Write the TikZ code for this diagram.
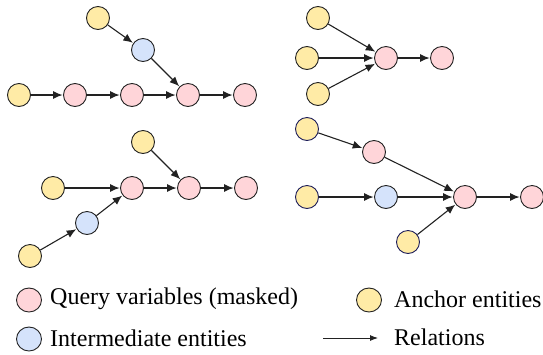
\documentclass[tikz,border=0pt]{standalone}
\usepackage{fontspec}
\setmainfont{Liberation Serif}
\usetikzlibrary{arrows.meta,shapes.geometric}
\definecolor{qpink}{HTML}{FFD5D9}
\definecolor{ayellow}{HTML}{FFEBA6}
\definecolor{iblue}{HTML}{D5E3FB}
\definecolor{edgec}{HTML}{222222}
\definecolor{navy}{HTML}{1E1E5A}
\tikzset{
  ent/.style={circle, draw=edgec, line width=0.9pt, minimum size=23pt, inner sep=0pt},
  qv/.style={ent, fill=qpink},
  an/.style={ent, fill=ayellow},
  anv/.style={an, draw=navy},
  im/.style={ent, fill=iblue},
  rel/.style={-{Latex[length=9.5pt,width=8pt]}, line width=1.1pt, draw=edgec, shorten >=0.5pt},
  lg/.style={ellipse, draw=edgec, line width=0.9pt, minimum width=25pt, minimum height=24pt, inner sep=0pt},
  lt/.style={anchor=west, inner sep=0pt, font=\fontsize{24}{28}\selectfont}
}
\begin{document}
\begin{tikzpicture}[x=1pt,y=-1pt]
\useasboundingbox (0,0) rectangle (543,354);
% top-left
\node[an] (a1) at (98,18) {};
\node[im] (b1) at (143,50) {};
\node[an] (a2) at (19,95) {};
\node[qv] (p1) at (75,95) {};
\node[qv] (p2) at (132,95) {};
\node[qv] (p3) at (188,95) {};
\node[qv] (p4) at (245,95) {};
\draw[rel] (a1) -- (b1);
\draw[rel] (b1) -- (p3);
\draw[rel] (a2) -- (p1);
\draw[rel] (p1) -- (p2);
\draw[rel] (p2) -- (p3);
\draw[rel] (p3) -- (p4);
% top-right
\node[an] (c1) at (318,18) {};
\node[an] (c2) at (307,58) {};
\node[an] (c3) at (318,94) {};
\node[qv] (q1) at (386,58) {};
\node[qv] (q2) at (442,58) {};
\draw[rel] (c1) -- (q1);
\draw[rel] (c2) -- (q1);
\draw[rel] (c3) -- (q1);
\draw[rel] (q1) -- (q2);
% bottom-left
\node[an] (d1) at (143,142) {};
\node[an] (d2) at (53,188) {};
\node[an] (d3) at (30,256) {};
\node[im] (e1) at (87,223) {};
\node[qv] (r1) at (132,188) {};
\node[qv] (r2) at (189,188) {};
\node[qv] (r3) at (246,188) {};
\draw[rel] (d2) -- (r1);
\draw[rel] (d3) -- (e1);
\draw[rel] (e1) -- (r1);
\draw[rel] (r1) -- (r2);
\draw[rel] (r2) -- (r3);
\draw[rel] (d1) -- (r2);
% bottom-right
\node[anv] (f1) at (307,129) {};
\node[anv] (f2) at (307,197) {};
\node[anv] (f3) at (408,242) {};
\node[im] (g1) at (386,197) {};
\node[qv] (s1) at (374,152) {};
\node[qv] (s2) at (465,197) {};
\node[qv] (s3) at (532,197) {};
\draw[rel] (f1) -- (s1);
\draw[rel] (s1) -- (s2);
\draw[rel] (f2) -- (g1);
\draw[rel] (g1) -- (s2);
\draw[rel] (f3) -- (s2);
\draw[rel] (s2) -- (s3);
% legend
\node[lg, fill=qpink] (lq) at (29,300) {};
\node[lt] (tq) at (50,299) {Query variables (masked)};
\node[lg, fill=iblue] (li) at (29,339) {};
\node[lt] (ti) at (50,338) {Intermediate entities};
\node[lg, fill=ayellow] (la) at (369,300) {};
\node[lt] (ta) at (394,299) {Anchor entities};
\coordinate (r0) at (323,338);
\coordinate (r9) at (378,338);
\draw[-{Latex[length=8pt,width=6pt]}, line width=0.9pt, draw=edgec] (r0) -- (r9);
\node[lt] (tr) at (394,337) {Relations};
\end{tikzpicture}
\end{document}
